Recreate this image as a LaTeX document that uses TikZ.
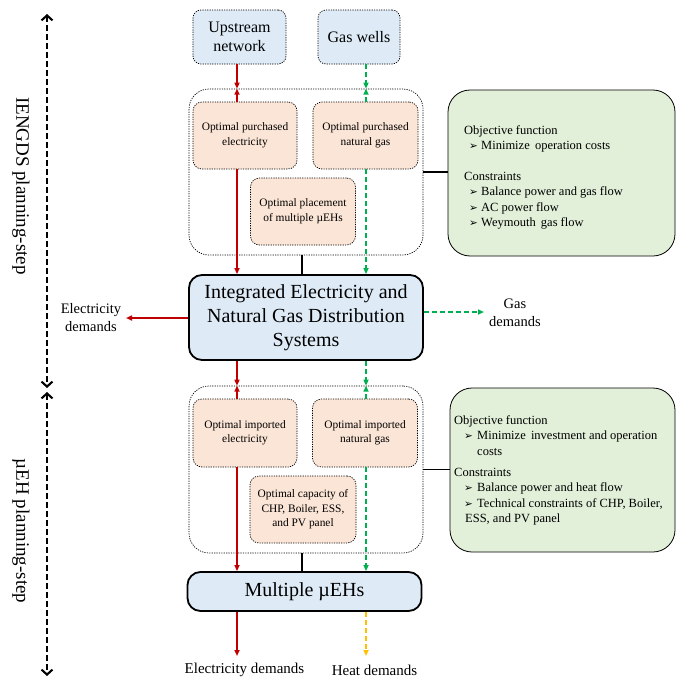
\documentclass[tikz,border=0pt]{standalone}
\usepackage{fontspec}
\setmainfont{Liberation Serif}
\newfontfamily\symfont{DejaVu Sans}
\usetikzlibrary{arrows.meta}
\definecolor{blueF}{HTML}{DEEBF7}
\definecolor{orangeF}{HTML}{FBE5D6}
\definecolor{greenF}{HTML}{E2F0D9}
\definecolor{elecred}{HTML}{C00000}
\definecolor{gasgreen}{HTML}{00B050}
\definecolor{heatyellow}{HTML}{FFC000}
\newcommand{\bulA}{\hspace*{5pt}\makebox[12pt][l]{\symfont\fontsize{10.5}{10}\selectfont ➢}}
\newcommand{\bulB}{\hspace*{10pt}\makebox[13pt][l]{\symfont\fontsize{10.5}{10}\selectfont ➢}}
\tikzset{
  srcbox/.style={draw, line width=0.7pt, dash pattern=on 1.2pt off 1.2pt, rounded corners=8pt, fill=blueF, inner sep=0pt, align=center, font=\fontsize{16}{19}\selectfont},
  optbox/.style={draw, line width=0.7pt, dash pattern=on 1.2pt off 1.2pt, rounded corners=9pt, fill=orangeF, inner sep=0pt, align=center, font=\fontsize{11.4}{14.5}\selectfont},
  container/.style={draw, line width=0.7pt, dash pattern=on 1.2pt off 1.2pt, rounded corners=20pt, inner sep=0pt},
  mainbox/.style={draw, line width=1.8pt, rounded corners=13pt, fill=blueF, inner sep=0pt, align=center, font=\fontsize{20}{24}\selectfont},
  objbox/.style={draw, line width=0.8pt, rounded corners=22pt, fill=greenF, inner sep=0pt},
  objtext/.style={align=left, inner sep=0pt, font=\fontsize{12.5}{15.3}\selectfont},
  tip/.style={-{Triangle[length=6pt,width=5pt]}},
  elec/.style={tip, draw=elecred, line width=1.7pt},
  gas/.style={tip, draw=gasgreen, line width=1.7pt, dash pattern=on 5pt off 3pt},
  heat/.style={tip, draw=heatyellow, line width=1.7pt, dash pattern=on 5pt off 3pt},
  link/.style={draw=black, line width=1.3pt},
  phase/.style={draw=black, line width=2.1pt, dash pattern=on 6pt off 3pt, {Straight Barb[length=5pt,width=11pt]}-{Straight Barb[length=5pt,width=11pt]}},
  demand/.style={align=center, inner sep=0pt, font=\fontsize{14.5}{18}\selectfont},
  bdemand/.style={align=center, inner sep=0pt, font=\fontsize{15}{18}\selectfont},
  steplabel/.style={rotate=-90, inner sep=0pt, font=\fontsize{19}{22}\selectfont}
}
\begin{document}
\begin{tikzpicture}[x=1pt,y=-1pt]
\useasboundingbox (0,0) rectangle (678,680);
% column coordinates
\coordinate (ex) at (237,0);
\coordinate (gx) at (366,0);
\coordinate (sx) at (302,0);
% top part
\node[srcbox, minimum width=93pt, minimum height=54pt] (up) at (239.5,37) {Upstream\\network};
\node[srcbox, minimum width=82pt, minimum height=54pt] (gw) at (359,37) {Gas wells};
\node[container, minimum width=234pt, minimum height=166pt] (c1) at (306,172) {};
\node[optbox, minimum width=104pt, minimum height=67pt] (pe) at (245,135.5) {Optimal purchased\\electricity};
\node[optbox, minimum width=105pt, minimum height=67pt] (pg) at (365.5,135.5) {Optimal purchased\\natural gas};
\node[optbox, minimum width=105pt, minimum height=67pt] (pp) at (303,211.5) {Optimal placement\\of multiple µEHs};
\node[mainbox, minimum width=234pt, minimum height=85pt] (main) at (306,317.5) {Integrated Electricity and\\Natural Gas Distribution\\Systems};
\node[objbox, minimum width=227pt, minimum height=166pt] (g1) at (561.5,173) {};
\node[objtext, anchor=west] (t1) at (464,177.5) {Objective function\\
\bulA Minimize\, operation costs\\[15.3pt]
Constraints\\
\bulA Balance power and gas flow\\
\bulA AC power flow\\
\bulA Weymouth\, gas flow};
% demands of main
\node[demand] (edl) at (91,317.5) {Electricity\\demands};
\node[demand] (gdl) at (515,313) {Gas\\demands};
% lower part
\node[container, minimum width=234pt, minimum height=167pt] (c2) at (306,469.5) {};
\node[optbox, minimum width=104pt, minimum height=68pt] (ie) at (245,433) {Optimal imported\\electricity};
\node[optbox, minimum width=105pt, minimum height=68pt] (ig) at (365,433) {Optimal imported\\natural gas};
\node[optbox, minimum width=106pt, minimum height=67pt] (cap) at (303,509.5) {Optimal capacity of\\CHP, Boiler, ESS,\\and PV panel};
\node[mainbox, minimum width=234pt, minimum height=39pt] (meh) at (304.5,591.5) {Multiple µEHs};
\node[objbox, minimum width=225pt, minimum height=164pt] (g2) at (562.5,470) {};
\node[objtext, anchor=west] (t2) at (454,470.5) {Objective function\\
\bulB Minimize\, investment and operation\\
\hspace*{23pt}costs\\[6pt]
Constraints\\
\bulB Balance power and heat flow\\
\bulB Technical constraints of CHP, Boiler,\\
\hspace*{11pt}ESS, and PV panel};
\node[bdemand] (edb) at (244.5,670) {Electricity demands};
\node[bdemand] (hdb) at (374.5,670) {Heat demands};
\coordinate (edbt) at (237,656);
\coordinate (hdbt) at (366,656);
\coordinate (edlt) at (126,318);
\coordinate (gdlt) at (484,312);
% phase labels
\node[steplabel] (s1) at (21,186) {IENGDS planning-step};
\node[steplabel] (s2) at (21,531) {µEH planning-step};
\coordinate (pa) at (47,14);
\coordinate (pb) at (47,388);
\coordinate (pc) at (47,392);
\coordinate (pd) at (47,676);
\draw[phase] (pa) -- (pb);
\draw[phase] (pc) -- (pd);
% electricity arrows
\draw[elec] (up.south -| ex) -- (c1.north -| ex);
\draw[elec] (pe.north -| ex) -- (c1.north -| ex);
\draw[elec] (pe.south -| ex) -- (main.north -| ex);
\draw[elec] (main.south -| ex) -- (c2.north -| ex);
\draw[elec] (ie.north -| ex) -- (c2.north -| ex);
\draw[elec] (ie.south -| ex) -- (meh.north -| ex);
\draw[elec] (meh.south -| ex) -- (edbt);
\draw[elec] (main.west |- edlt) -- (edlt);
% gas arrows
\draw[gas] (gw.south -| gx) -- (c1.north -| gx);
\draw[gas] (pg.north -| gx) -- (c1.north -| gx);
\draw[gas] (pg.south -| gx) -- (main.north -| gx);
\draw[gas] (main.south -| gx) -- (c2.north -| gx);
\draw[gas] (ig.north -| gx) -- (c2.north -| gx);
\draw[gas] (ig.south -| gx) -- (meh.north -| gx);
\draw[gas] (main.east |- gdlt) -- (gdlt);
\draw[heat] (meh.south -| gx) -- (hdbt);
% links
\draw[link] (c1.south -| sx) -- (main.north -| sx);
\draw[link] (c2.south -| sx) -- (meh.north -| sx);
\draw[link] (c1.east) -- (c1.east -| g1.west);
\draw[link] (c2.east) -- (c2.east -| g2.west);
\end{tikzpicture}
\end{document}
